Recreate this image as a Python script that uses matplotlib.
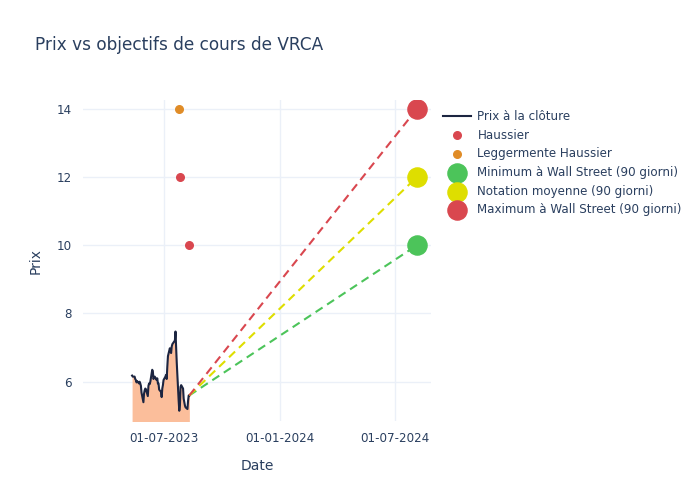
import matplotlib
matplotlib.use("Agg")
import matplotlib.pyplot as plt
import matplotlib.dates as mdates
import pandas as pd

# ---- data
close_start = "2023-05-11"
close_values = [
    6.18, 6.15, 6.15, 6.08, 6.05, 5.98, 6.02, 5.95, 6.00, 5.95,
    5.88, 5.68, 5.40, 5.65, 5.75, 5.80, 5.78, 5.58, 5.88, 5.95,
    5.93, 6.00, 6.35, 6.30, 6.08, 6.12, 6.15, 6.05, 6.10, 5.95,
    5.95, 5.77, 5.70, 5.55, 5.80, 5.90, 6.05, 6.15, 6.20, 6.08,
    6.45, 6.75, 6.98, 6.92, 6.84, 7.03, 7.10, 7.18, 7.20, 7.47,
    7.00, 6.55, 5.45, 5.15, 5.30, 5.85, 5.90, 5.80, 5.50, 5.40,
    5.30, 5.25, 5.20, 5.45, 5.60, 5.60,
]
close_dates = pd.bdate_range(close_start, periods=len(close_values))

bull_dates = pd.to_datetime(["2023-07-26", "2023-08-09"])
bull_values = [12, 10]
slight_bull_dates = pd.to_datetime(["2023-07-24"])
slight_bull_values = [14]

target_date = pd.Timestamp("2024-08-06")
target_labels = ["Minimum à Wall Street (90 giorni)",
                 "Notation moyenne (90 giorni)",
                 "Maximum à Wall Street (90 giorni)"]
target_values = [10, 12, 14]
target_colors = ["#4cc45a", "#dede00", "#d9474f"]

xtick_dates = pd.to_datetime(["2023-07-01", "2024-01-01", "2024-07-01"])
yticks = [6, 8, 10, 12, 14]

txt = "#2a3f5f"
grid = "#ebf0f8"

fig = plt.figure(figsize=(7, 5), dpi=100)
ax = fig.add_axes([83 / 700, 79 / 500, 348 / 700, 321 / 500])

ylow = 4.85
ax.fill_between(close_dates, close_values, 0, color="#fbbe9b", lw=0, zorder=2)
ax.plot(close_dates, close_values, color="#1c2541", lw=1.5, zorder=3,
        label="Prix à la clôture")

ax.scatter(bull_dates, bull_values, s=30, color="#d9474f", zorder=4,
           label="Haussier")
ax.scatter(slight_bull_dates, slight_bull_values, s=30, color="#e08c27",
           zorder=4, label="Leggermente Haussier")

last_d, last_v = close_dates[-1], close_values[-1]
for lab, val, col in zip(target_labels, target_values, target_colors):
    ax.plot([last_d, target_date], [last_v, val], color=col, lw=1.5,
            dashes=(4, 2.6), zorder=3)
    ax.scatter([target_date], [val], s=190, color=col, zorder=5, label=lab)

ax.set_xlim(pd.Timestamp("2023-02-22"), pd.Timestamp("2024-08-28"))
ax.set_ylim(ylow, 14.25)
ax.set_xticks(xtick_dates)
ax.xaxis.set_major_formatter(mdates.DateFormatter("%d-%m-%Y"))
ax.set_yticks(yticks)
ax.grid(color=grid, lw=1, zorder=0)
ax.set_axisbelow(True)
for s in ax.spines.values():
    s.set_visible(False)
ax.tick_params(length=0, labelsize=8.6, colors=txt, pad=8)

ax.set_xlabel("Date", fontsize=10, color=txt, labelpad=10)
ax.set_ylabel("Prix", fontsize=10, color=txt, labelpad=10)

fig.text(35 / 700, 1 - 45 / 500, "Prix vs objectifs de cours de VRCA",
         fontsize=12.2, color=txt, va="center", ha="left")

leg = fig.legend(loc="upper left", bbox_to_anchor=(438 / 700, 1 - 105 / 500),
                 frameon=False, fontsize=8.6, labelspacing=0.48,
                 handlelength=2.4, handletextpad=0.5, borderaxespad=0)
for t in leg.get_texts():
    t.set_color(txt)

fig.savefig("out.png", dpi=100)
